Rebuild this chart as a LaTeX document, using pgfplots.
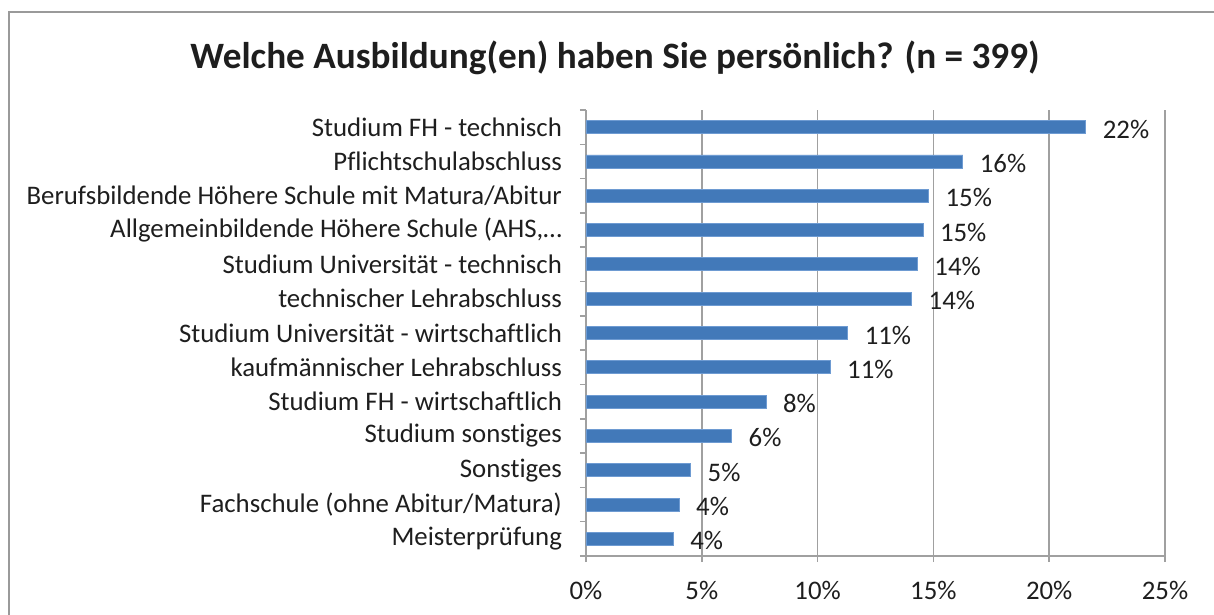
\documentclass[border=0pt]{standalone}
\usepackage{fontspec}
\setmainfont{Carlito}[Ligatures=NoCommon]
\usepackage{pgfplots}
\pgfplotsset{compat=1.18}
\definecolor{barblue}{HTML}{4279B9}
\definecolor{baredge}{HTML}{6E9BD2}
\definecolor{gridgray}{HTML}{A0A0A0}
\definecolor{framegray}{HTML}{9A9A9A}
\definecolor{txt}{HTML}{1E1E1E}

\begin{document}
\begin{tikzpicture}
\begin{axis}[
  scale only axis, width=289.5pt, height=223pt,
  xbar, bar width=6.5pt,
  xmin=0, xmax=25, ymin=0.5, ymax=13.5,
  /pgf/number format/assume math mode=true,
  xtick={0,5,...,25},
  xticklabel={\pgfmathprintnumber{\tick}\%},
  xmajorgrids, grid style={gridgray, line width=0.75pt},
  axis x line*=bottom, axis y line*=left,
  axis line style={gridgray, line width=0.75pt},
  ytick={1,...,13},
  yticklabels={Meisterprüfung, Fachschule (ohne Abitur/Matura), Sonstiges, Studium sonstiges, Studium FH - wirtschaftlich, kaufmännischer Lehrabschluss, Studium Universität - wirtschaftlich, technischer Lehrabschluss, Studium Universität - technisch, {Allgemeinbildende Höhere Schule (AHS,…}, Berufsbildende Höhere Schule mit Matura/Abitur, Pflichtschulabschluss, Studium FH - technisch},
  minor ytick={0.5,1.5,...,13.5},
  tick align=outside,
  major tick length=3pt, minor tick length=3pt,
  major y tick style={draw=none},
  tick style={gridgray, line width=0.75pt},
  ticklabel style={font=\fontsize{13.4}{16}\selectfont, text=txt},
  yticklabel style={xshift=-5.5pt},
  xticklabel style={yshift=-6pt},
  nodes near coords={\pgfmathprintnumber[fixed,precision=0]{\pgfplotspointmeta}\%},
  point meta=x,
  every node near coord/.append style={anchor=west, xshift=5pt, yshift=-1pt, font=\fontsize{13.4}{16}\selectfont, text=txt},
]
\addplot[fill=barblue, draw=baredge, line width=0.4pt] coordinates {
(3.77,1) (4.02,2) (4.52,3) (6.29,4) (7.77,5) (10.54,6) (11.30,7) (14.06,8) (14.31,9) (14.55,10) (14.79,11) (16.27,12) (21.58,13)
};
\end{axis}
\node[font=\bfseries\fontsize{18.6}{22}\selectfont, text=txt] at (14.5pt,249pt) {Welche Ausbildung(en) haben Sie persönlich? (n = 399)};
\draw[framegray, line width=1.2pt] (-288.5pt,-40pt) -- (-288.5pt,272pt) -- (330pt,272pt);
\pgfresetboundingbox
\useasboundingbox (-293pt,-29.5pt) rectangle (314pt,278pt);
\end{tikzpicture}
\end{document}
